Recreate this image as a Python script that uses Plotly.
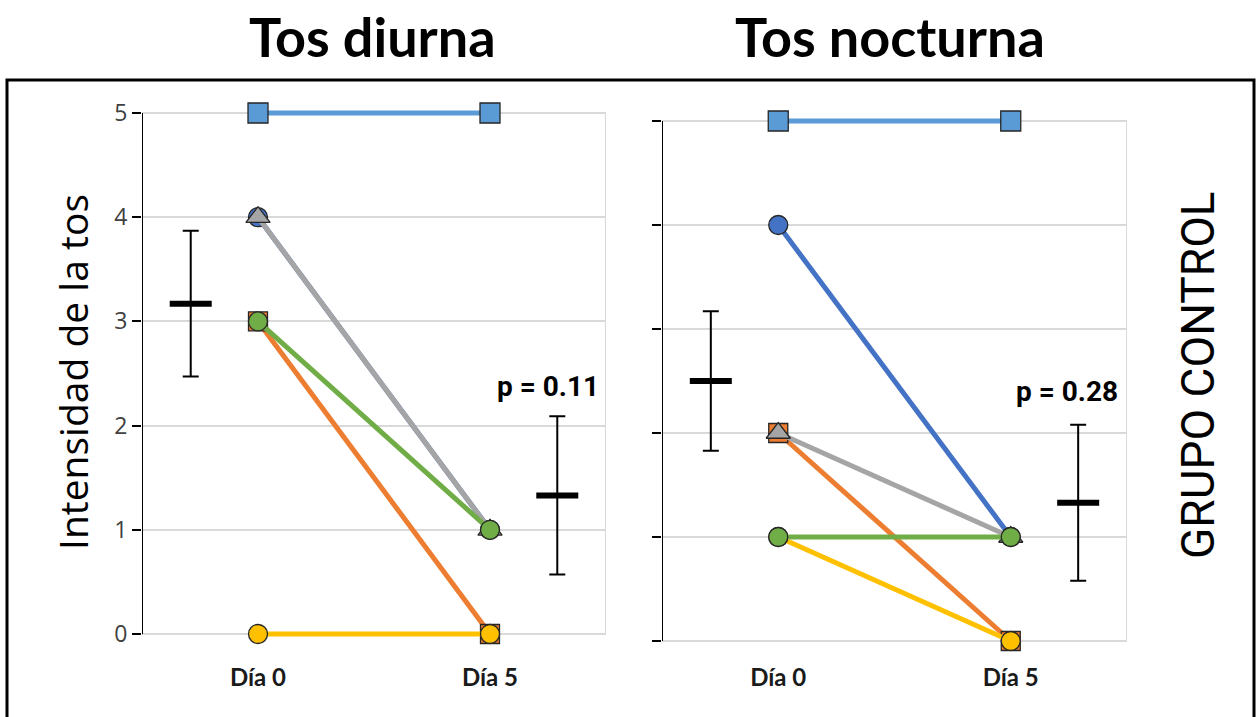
import plotly.graph_objects as go

W, H = 1257, 717


def px(x):
    return x / W


def py(y):
    return 1 - y / H


days_x = [1, 3]
day_labels = ["Día 0", "Día 5"]

# Series (patients) – Tos diurna
diurna_blue = [4, 1]
diurna_orange = [3, 0]
diurna_gray = [4, 1]
diurna_gold = [0, 0]
diurna_lightblue = [5, 5]
diurna_green = [3, 1]

# Series – Tos nocturna
noct_blue = [4, 1]
noct_orange = [2, 0]
noct_gray = [2, 1]
noct_gold = [1, 0]
noct_lightblue = [5, 5]
noct_green = [1, 1]

# mean ± error bars
err_x = [0.42, 3.58]
diurna_mean = [3.17, 1.33]
diurna_err = [0.70, 0.76]
noct_mean = [2.50, 1.33]
noct_err = [0.67, 0.75]

p_values = ["p = 0.11", "p = 0.28"]
y_ticks = [0, 1, 2, 3, 4, 5]

series_style = [
    ("blue", "#4472C4", "circle", 19),
    ("orange", "#ED7D31", "square", 19),
    ("gray", "#A5A5A5", "triangle-up", 21),
    ("gold", "#FFC000", "circle", 19),
    ("lightblue", "#5B9BD5", "square", 20),
    ("green", "#70AD47", "circle", 19),
]
diurna = {"blue": diurna_blue, "orange": diurna_orange, "gray": diurna_gray,
          "gold": diurna_gold, "lightblue": diurna_lightblue, "green": diurna_green}
noct = {"blue": noct_blue, "orange": noct_orange, "gray": noct_gray,
        "gold": noct_gold, "lightblue": noct_lightblue, "green": noct_green}

fig = go.Figure()

for data, xa, ya in [(diurna, "x", "y"), (noct, "x2", "y2")]:
    for name, color, sym, size in series_style:
        fig.add_trace(go.Scatter(
            x=days_x, y=data[name], xaxis=xa, yaxis=ya, mode="lines+markers",
            line=dict(color=color, width=5),
            marker=dict(color=color, symbol=sym, size=size,
                        line=dict(color="#262626", width=1.3)),
            cliponaxis=False, showlegend=False, hoverinfo="skip"))

for mean, err, xa, ya in [(diurna_mean, diurna_err, "x", "y"), (noct_mean, noct_err, "x2", "y2")]:
    fig.add_trace(go.Scatter(
        x=err_x, y=mean, xaxis=xa, yaxis=ya, mode="markers",
        marker=dict(symbol="line-ew", size=30, color="black",
                    line=dict(color="black", width=6)),
        error_y=dict(type="data", array=err, color="black", thickness=2, width=8),
        cliponaxis=False, showlegend=False, hoverinfo="skip"))

PAD = 0.03  # small range padding so lines at 0 and 5 are not clipped
u1 = (634 - 113) / 5
u2 = (641 - 121) / 5
xdom1 = [px(142), px(606)]
xdom2 = [px(662), px(1127)]
ydom1 = [py(634 + PAD * u1), py(113 - PAD * u1)]
ydom2 = [py(641 + PAD * u2), py(121 - PAD * u2)]

xaxis_common = dict(range=[0, 4], tickvals=days_x,
                    ticktext=["<b>" + t + "</b>" for t in day_labels],
                    showgrid=False, zeroline=False, showline=False, ticks="",
                    tickfont=dict(family="Lato, Open Sans, sans-serif", size=24, color="#1a1a1a"),
                    fixedrange=True)
yaxis_common = dict(range=[-PAD, 5 + PAD], tickvals=y_ticks, showgrid=True, gridcolor="#D9D9D9",
                    gridwidth=2, zeroline=False, showline=False,
                    ticks="outside", ticklen=9, tickwidth=2,
                    tickcolor="black", fixedrange=True)

fig.update_layout(
    width=W, height=H,
    margin=dict(l=0, r=0, t=0, b=0, autoexpand=False),
    paper_bgcolor="white", plot_bgcolor="white",
    xaxis=dict(domain=xdom1, anchor="y", ticklabelstandoff=24, **xaxis_common),
    yaxis=dict(domain=ydom1, anchor="x", showticklabels=True,
               tickfont=dict(family="Open Sans, sans-serif", size=23, color="#404040"),
               **yaxis_common),
    xaxis2=dict(domain=xdom2, anchor="y2", ticklabelstandoff=17, **xaxis_common),
    yaxis2=dict(domain=ydom2, anchor="x2", showticklabels=False, **yaxis_common),
)

shapes = [
    dict(type="rect", xref="paper", yref="paper", x0=px(7), x1=px(1254),
         y0=-0.02, y1=py(80), line=dict(color="black", width=3)),
    # right plot-area border (light gray)
    dict(type="line", xref="x", yref="y", x0=4, x1=4, y0=0, y1=5, layer="below",
         line=dict(color="#D9D9D9", width=2)),
    dict(type="line", xref="x2", yref="y2", x0=4, x1=4, y0=0, y1=5, layer="below",
         line=dict(color="#D9D9D9", width=2)),
    # y axis lines spanning exactly 0..5
    dict(type="line", xref="x", yref="y", x0=0, x1=0, y0=0, y1=5,
         line=dict(color="black", width=2)),
    dict(type="line", xref="x2", yref="y2", x0=0, x1=0, y0=0, y1=5,
         line=dict(color="black", width=2)),
]
fig.update_layout(shapes=shapes)

title_font = dict(family="Lato, sans-serif", size=54, color="black")
narrow_font = "Roboto, Liberation Sans, sans-serif"
annotations = [
    dict(text="<b>Tos diurna</b>", x=px(372), y=py(37), xref="paper", yref="paper",
         showarrow=False, font=title_font, xanchor="center", yanchor="middle"),
    dict(text="<b>Tos nocturna</b>", x=px(890), y=py(37), xref="paper", yref="paper",
         showarrow=False, font=title_font, xanchor="center", yanchor="middle"),
    dict(text="Intensidad de la tos", x=px(72), y=py(372), xref="paper", yref="paper",
         showarrow=False, textangle=-90,
         font=dict(family="Open Sans, sans-serif", size=39, color="black"),
         xanchor="center", yanchor="middle"),
    dict(text="GRUPO CONTROL", x=px(1198), y=py(375), xref="paper", yref="paper",
         showarrow=False, textangle=-90,
         font=dict(family=narrow_font, size=46, color="black"),
         xanchor="center", yanchor="middle"),
    dict(text="<b>" + p_values[0] + "</b>", x=px(548), y=py(386), xref="paper", yref="paper",
         showarrow=False, font=dict(family=narrow_font, size=28, color="black"),
         xanchor="center", yanchor="middle"),
    dict(text="<b>" + p_values[1] + "</b>", x=px(1067), y=py(391), xref="paper", yref="paper",
         showarrow=False, font=dict(family=narrow_font, size=28, color="black"),
         xanchor="center", yanchor="middle"),
]
fig.update_layout(annotations=annotations)

fig.write_html(
    "out.html",
    config={"displayModeBar": False},
    post_script="document.body.style.margin='0px';document.body.style.padding='0px';",
)
